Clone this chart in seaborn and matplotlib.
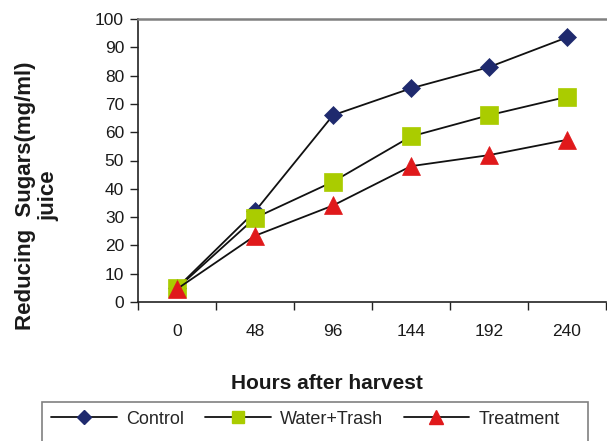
import numpy as np
import pandas as pd
import matplotlib
matplotlib.use("Agg")
import matplotlib.pyplot as plt
from matplotlib.lines import Line2D
from matplotlib.patches import Rectangle
import seaborn as sns

# ---- data ----
hours = ["0", "48", "96", "144", "192", "240"]
control = [5.0, 32.0, 66.0, 75.5, 83.0, 93.5]
water_trash = [4.8, 29.7, 42.5, 58.5, 66.0, 72.5]
treatment = [4.6, 23.4, 34.1, 48.0, 51.9, 57.3]

series_names = ["Control", "Water+Trash", "Treatment"]
series_values = [control, water_trash, treatment]
marker_colors = ["#1F2A6E", "#AACC00", "#E0191B"]
markers = ["D", "s", "^"]
marker_sizes = [9.5, 12.5, 13]

sns.set_theme(style="white")
plt.rcParams["font.family"] = ["Liberation Sans", "DejaVu Sans"]

W, H = 607, 441
fig = plt.figure(figsize=(W / 100, H / 100), dpi=100)
ax = fig.add_axes([138 / W, 1 - 302 / H, (606 - 138) / W, (302 - 19) / H])

x_idx = np.arange(len(hours))
for name, vals, c, m, ms in zip(series_names, series_values, marker_colors, markers, marker_sizes):
    df = pd.DataFrame({"x": x_idx, "y": vals})
    sns.lineplot(data=df, x="x", y="y", ax=ax, color="#111111", linewidth=1.3,
                 marker=m, markersize=ms, markerfacecolor=c, markeredgecolor=c,
                 markeredgewidth=0.5, sort=False, legend=False)

ax.set_xlim(-0.5, len(hours) - 0.5)
ax.set_ylim(0, 100)
ax.set_yticks(np.arange(0, 101, 10))
ax.tick_params(axis="y", which="major", direction="out", length=6, width=1,
               color="#222222", labelsize=12.5, labelcolor="#1a1a1a", pad=4, left=True)
ax.set_xticks(x_idx)
ax.set_xticklabels(hours)
ax.tick_params(axis="x", which="major", length=0, labelsize=12.5, labelcolor="#1a1a1a", pad=16)
ax.set_xticks(np.arange(-0.5, len(hours) + 0.5, 1), minor=True)
ax.tick_params(axis="x", which="minor", direction="out", length=6, width=1,
               color="#222222", bottom=True)
ax.set_xlabel("")
ax.set_ylabel("")

for s in ["left", "bottom"]:
    ax.spines[s].set_color("#222222")
    ax.spines[s].set_linewidth(1.2)
ax.spines["top"].set_color("#808080")
ax.spines["top"].set_linewidth(1.8)
ax.spines["right"].set_visible(False)

fig.text(327 / W, 1 - 383.5 / H, "Hours after harvest", ha="center", va="center",
         fontsize=15, fontweight="bold", color="#1a1a1a")
fig.text(37 / W, 1 - 196 / H, "Reducing  Sugars(mg/ml)\njuice", ha="center", va="center",
         rotation=90, fontsize=16, fontweight="bold", color="#1a1a1a",
         multialignment="center", linespacing=1.15)

# legend
leg_ms = [7, 9, 9.5]
handles = [Line2D([0], [0], color="#111111", linewidth=1.3, marker=m, markersize=ms,
                  markerfacecolor=c, markeredgecolor=c)
           for m, ms, c in zip(markers, leg_ms, marker_colors)]
fig.legend(handles, series_names, loc="center left", bbox_to_anchor=(51 / W, 1 - 419 / H),
           ncol=3, frameon=False, fontsize=13, handlelength=3.65, handletextpad=0.5,
           columnspacing=1.15, borderpad=0, borderaxespad=0)
fig.patches.append(Rectangle((42 / W, -0.1), (588 - 42) / W, (441 - 402) / H + 0.1,
                             transform=fig.transFigure, fill=False,
                             edgecolor="#808080", linewidth=1.2))

fig.savefig("out.png", dpi=100)
